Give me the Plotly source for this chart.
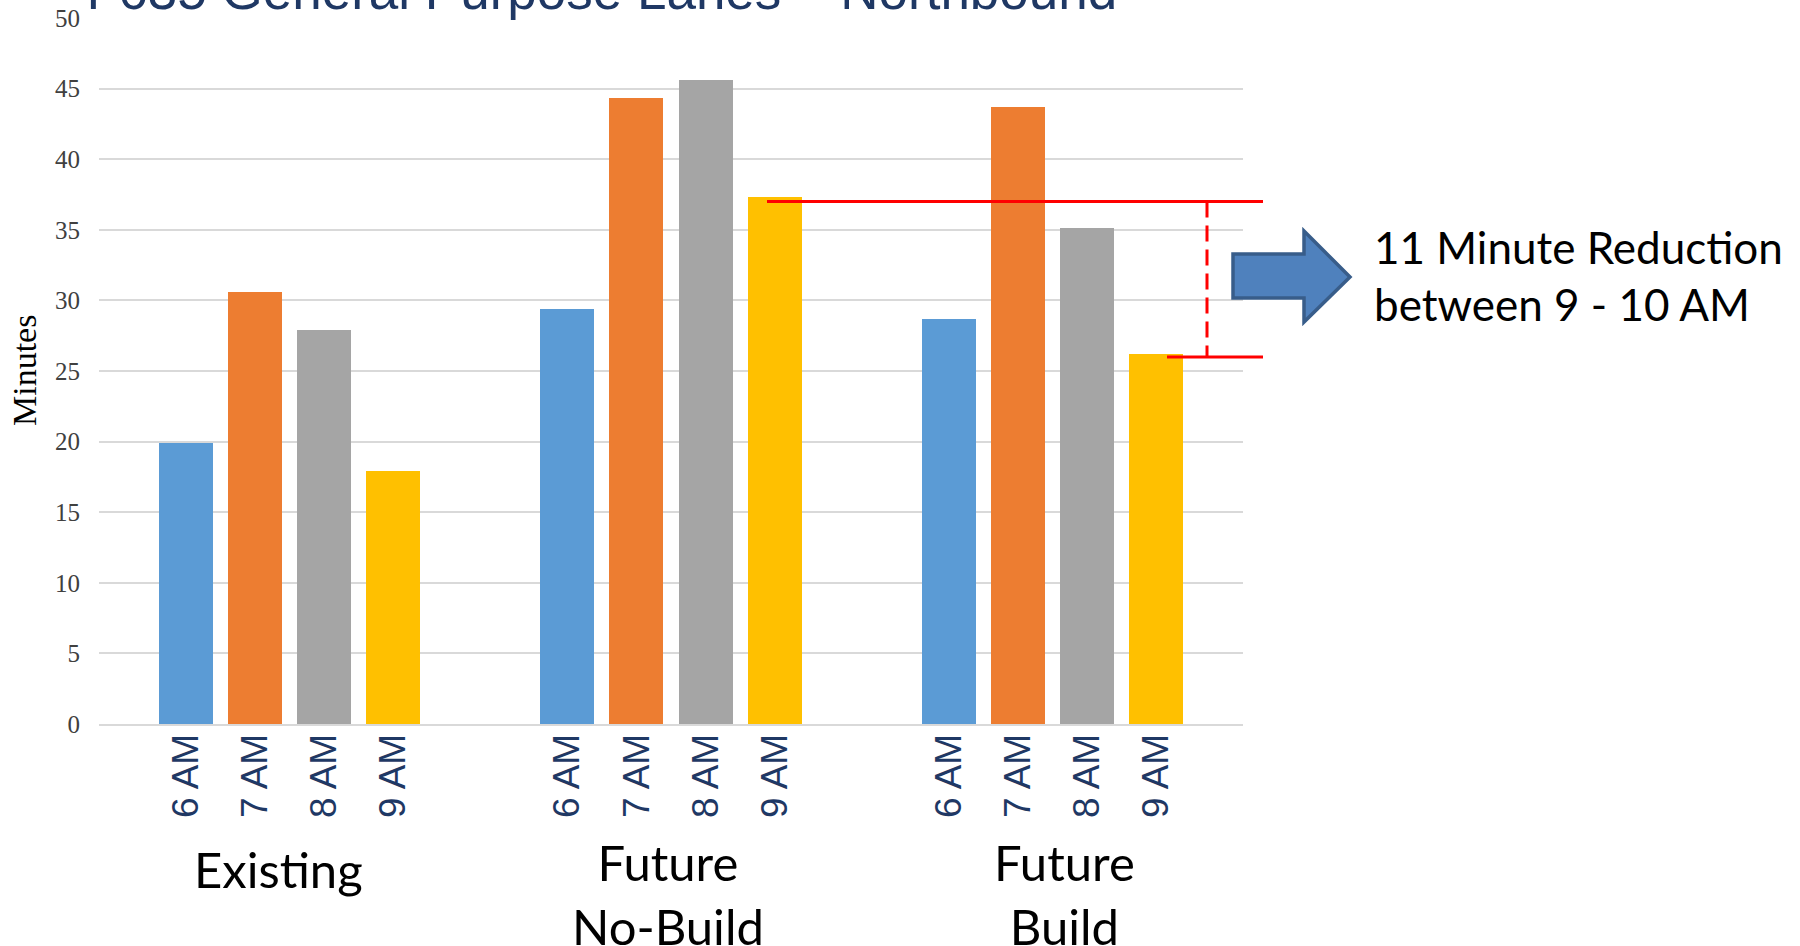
import plotly.graph_objects as go

# Travel times (minutes) by departure hour for each scenario
hours = ["6 AM", "7 AM", "8 AM", "9 AM"]
scenarios = ["Existing", "Future<br>No-Build", "Future<br>Build"]
existing = [19.9, 30.6, 27.9, 17.9]
future_no_build = [29.4, 44.3, 45.6, 37.3]
future_build = [28.7, 43.7, 35.1, 26.2]

# Highlighted 9 AM reduction between No-Build and Build
reduction_minutes = 11
reduction_top = 37.0

hour_colors = ["#5b9bd5", "#ed7d31", "#a5a5a5", "#ffc000"]
navy = "#1f3864"

W, H = 1800, 946
L, R, T, B = 99, 557, 18, 222
plot_w = W - L - R
plot_h = H - T - B


def px(x):
    """Pixel column -> paper x."""
    return (x - L) / plot_w


def py(y):
    """Pixel row -> paper y."""
    return (H - B - y) / plot_h


slot = 0.181      # spacing of bars inside a scenario group (category units)
bar_w = 0.1416    # bar width (category units)
series = [existing, future_no_build, future_build]

fig = go.Figure()
for k, hour in enumerate(hours):
    xs = [g + (k - 1.5) * slot for g in range(len(scenarios))]
    ys = [s[k] for s in series]
    fig.add_trace(go.Bar(
        x=xs, y=ys, width=bar_w, name=hour, showlegend=False,
        marker=dict(color=hour_colors[k], line=dict(width=0)),
        hoverinfo="skip",
    ))

tickvals = [g + (k - 1.5) * slot for g in range(len(scenarios)) for k in range(len(hours))]
ticktext = [h for _ in scenarios for h in hours]

annotations = [
    dict(text="I-635 General Purpose Lanes \u2013 Northbound", xref="paper", yref="paper",
         x=px(84), y=py(22), xanchor="left", yanchor="bottom", showarrow=False,
         font=dict(family="Liberation Sans, Arial", size=53, color=navy)),
    dict(text="Minutes", xref="paper", yref="paper", x=px(24), y=0.5, textangle=-90,
         xanchor="center", yanchor="middle", showarrow=False,
         font=dict(family="Liberation Serif, Times New Roman", size=34, color="#000000")),
    dict(text="11 Minute Reduction<br>between 9 - 10 AM", xref="paper", yref="paper",
         x=px(1372), y=py(219), xanchor="left", yanchor="top", align="left", showarrow=False,
         font=dict(family="Lato", size=44, color="#000000")),
]

label_shift = [-11, -3, 12]
label_top = [838, 831, 831]
for g, name in enumerate(scenarios):
    annotations.append(dict(
        text=name, xref="x", yref="paper", x=g, xshift=label_shift[g], y=py(label_top[g]),
        xanchor="center", yanchor="top", align="center", showarrow=False,
        font=dict(family="Lato", size=49, color="#000000"),
    ))

low = reduction_top - reduction_minutes
red = "#ff0000"
arrow = [(1233, 254), (1304, 254), (1304, 231), (1350, 277), (1304, 322), (1304, 298), (1233, 298)]
arrow_path = "M " + " L ".join(f"{px(x):.5f},{py(y):.5f}" for x, y in arrow) + " Z"

shapes = [
    dict(type="line", xref="paper", yref="y", x0=px(767), x1=px(1263), y0=reduction_top, y1=reduction_top,
         line=dict(color=red, width=3)),
    dict(type="line", xref="paper", yref="y", x0=px(1167), x1=px(1263), y0=low, y1=low,
         line=dict(color=red, width=3)),
    dict(type="line", xref="paper", yref="y", x0=px(1207), x1=px(1207), y0=reduction_top, y1=low,
         line=dict(color=red, width=3, dash="16px,8px")),
    dict(type="path", xref="paper", yref="paper", path=arrow_path,
         fillcolor="#4f81bd", line=dict(color="#385d8a", width=3.5)),
]

fig.update_layout(
    width=W, height=H,
    margin=dict(l=L, r=R, t=T, b=B, autoexpand=False),
    paper_bgcolor="white", plot_bgcolor="white",
    bargap=0,
    xaxis=dict(
        range=[-0.5, 2.5], tickmode="array", tickvals=tickvals, ticktext=ticktext,
        tickangle=-90, ticks="", ticklabelstandoff=-7,
        tickfont=dict(family="Liberation Sans, Arial", size=37, color=navy),
        showgrid=False, zeroline=False, showline=True, linecolor="#d9d9d9", linewidth=2,
    ),
    yaxis=dict(
        range=[0, 50], dtick=5, tick0=0, ticks="", ticklabelstandoff=18,
        tickfont=dict(family="Liberation Serif, Times New Roman", size=25, color="#404040"),
        showgrid=True, gridcolor="#d9d9d9", gridwidth=1.5, zeroline=False, showline=False,
    ),
    annotations=annotations,
    shapes=shapes,
    showlegend=False,
)

fig.write_html("out.html")
